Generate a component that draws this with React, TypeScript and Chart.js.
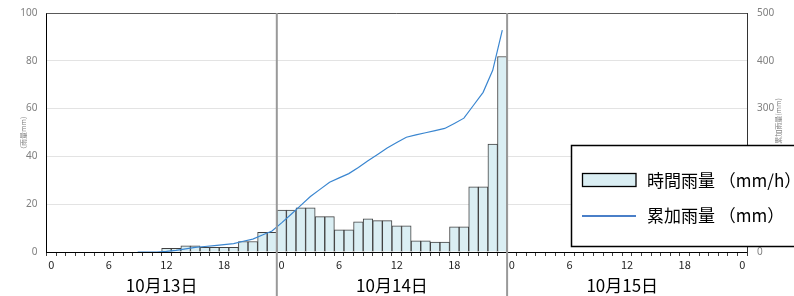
import React, { useEffect, useRef } from 'react';
import { Chart, registerables } from 'chart.js';

Chart.register(...registerables);

// ---- data ----
const dayLabels = ['10月13日', '10月14日', '10月15日'];
const hourLabels = [
  '0', '1', '2', '3', '4', '5', '6', '7', '8', '9', '10', '11', '12', '13', '14', '15', '16', '17', '18', '19', '20', '21', '22', '23',
  '0', '1', '2', '3', '4', '5', '6', '7', '8', '9', '10', '11', '12', '13', '14', '15', '16', '17', '18', '19', '20', '21', '22', '23',
  '0', '1', '2', '3', '4', '5', '6', '7', '8', '9', '10', '11', '12', '13', '14', '15', '16', '17', '18', '19', '20', '21', '22', '23',
  '0',
];
const shownHourTicks = ['0', '6', '12', '18'];

// 時間雨量 (mm/h)
const hourlyDay13 = [0, 0, 0, 0, 0, 0, 0, 0, 0, 0, 0, 0, 1.5, 1.5, 2.6, 2.6, 2, 2, 2, 2, 4.4, 4.4, 8.2, 8.2];
const hourlyDay14 = [17.5, 17.5, 18.5, 18.5, 14.8, 14.8, 9.3, 9.3, 12.6, 13.9, 13.1, 13.1, 11, 11, 4.7, 4.7, 4.2, 4.2, 10.5, 10.5, 27.3, 27.3, 45.2, 81.8];
const hourlyDay15 = [null, null, null, null, null, null, null, null, null, null, null, null, null, null, null, null, null, null, null, null, null, null, null, null, null];

// 累加雨量 (mm)
const cumulativeDay13 = [null, null, null, null, null, null, null, null, null, 0, 0, 0, 1.5, 3.5, 6.5, 9.5, 11.5, 13.5, 15.5, 17.5, 22.5, 27, 35.5, 44];
const cumulativeDay14 = [61, 79, 97.5, 116, 131, 146, 155, 164, 177, 191, 204, 217.5, 229, 240, 245, 249.5, 254, 258.5, 269, 280, 307, 334, 380, 464];
const cumulativeDay15 = [null, null, null, null, null, null, null, null, null, null, null, null, null, null, null, null, null, null, null, null, null, null, null, null, null];

const seriesNames = ['時間雨量 （mm/h）', '累加雨量 （mm）'];
const leftAxisTitle = '（雨量mm）';
const rightAxisTitle = '累加雨量(mm)';

const hourlyRain = [...hourlyDay13, ...hourlyDay14, ...hourlyDay15];
const cumulativeRain = [...cumulativeDay13, ...cumulativeDay14, ...cumulativeDay15];

const BAR_FILL = '#daeef3';
const BAR_BORDER = '#404040';
const LINE_COLOR = '#3a86d0';
const JP_FONT = '"Noto Sans CJK JP", "Noto Sans", sans-serif';

const overlayPlugin = {
  id: 'overlay',
  afterDatasetsDraw(chart: any) {
    const { ctx, chartArea, scales } = chart;
    const x = scales.x;
    ctx.save();
    // top border
    ctx.strokeStyle = '#595959';
    ctx.lineWidth = 1;
    ctx.beginPath();
    ctx.moveTo(chartArea.left, Math.round(chartArea.top) + 0.5);
    ctx.lineTo(chartArea.right, Math.round(chartArea.top) + 0.5);
    ctx.stroke();
    // day dividers
    ctx.strokeStyle = '#999999';
    ctx.lineWidth = 2;
    for (let d = 1; d < dayLabels.length; d++) {
      const px = x.getPixelForValue(24 * d - 0.5);
      ctx.beginPath();
      ctx.moveTo(px, chartArea.top);
      ctx.lineTo(px, chart.height);
      ctx.stroke();
    }
    ctx.restore();
  },
  afterDraw(chart: any) {
    const { ctx, chartArea, scales } = chart;
    const x = scales.x;
    ctx.save();
    // day labels
    ctx.fillStyle = '#000';
    ctx.font = `17px ${JP_FONT}`;
    ctx.textAlign = 'center';
    ctx.textBaseline = 'middle';
    dayLabels.forEach((lab, d) => {
      const px = x.getPixelForValue(24 * d + 11.5);
      ctx.fillText(lab, px, 286);
    });
    // axis titles
    ctx.fillStyle = '#7f7f7f';
    ctx.font = `7px ${JP_FONT}`;
    ctx.save();
    ctx.translate(23, (chartArea.top + chartArea.bottom) / 2);
    ctx.rotate(-Math.PI / 2);
    ctx.fillText(leftAxisTitle, 0, 0);
    ctx.restore();
    ctx.save();
    ctx.translate(778, 121);
    ctx.rotate(-Math.PI / 2);
    ctx.fillText(rightAxisTitle, 0, 0);
    ctx.restore();
    // legend box
    ctx.fillStyle = '#ffffff';
    ctx.fillRect(571, 145, 240, 102);
    ctx.strokeStyle = '#000';
    ctx.lineWidth = 1.5;
    ctx.strokeRect(571.5, 145.5, 240, 101);
    // bar swatch
    ctx.fillStyle = BAR_FILL;
    ctx.fillRect(582.5, 173.5, 53.5, 13);
    ctx.strokeStyle = '#000';
    ctx.lineWidth = 1.3;
    ctx.strokeRect(582.5, 173.5, 53.5, 13);
    // line swatch
    ctx.strokeStyle = '#4a7fc8';
    ctx.lineWidth = 2;
    ctx.beginPath();
    ctx.moveTo(582, 216);
    ctx.lineTo(636, 216);
    ctx.stroke();
    // legend text
    ctx.fillStyle = '#000';
    ctx.font = `17px ${JP_FONT}`;
    ctx.textAlign = 'left';
    ctx.textBaseline = 'middle';
    ctx.fillText(seriesNames[0], 647, 181);
    ctx.fillText(seriesNames[1], 647, 216);
    ctx.restore();
  },
};

export default function App() {
  const canvasRef = useRef<HTMLCanvasElement | null>(null);

  useEffect(() => {
    if (!canvasRef.current) return;
    const chart = new Chart(canvasRef.current, {
      type: 'bar',
      data: {
        labels: hourLabels,
        datasets: [
          {
            type: 'line',
            label: seriesNames[1],
            data: cumulativeRain as any,
            yAxisID: 'y2',
            borderColor: LINE_COLOR,
            borderWidth: 1.2,
            pointRadius: 0,
            tension: 0,
            fill: false,
            order: 0,
          } as any,
          {
            type: 'bar',
            label: seriesNames[0],
            data: hourlyRain as any,
            yAxisID: 'y',
            backgroundColor: BAR_FILL,
            borderColor: BAR_BORDER,
            borderWidth: 1,
            barPercentage: 1,
            categoryPercentage: 1,
            order: 1,
          } as any,
        ],
      },
      options: {
        responsive: false,
        animation: false,
        devicePixelRatio: 1,
        layout: { padding: { top: 13, bottom: 0, left: 0, right: 0 } },
        plugins: {
          legend: { display: false },
          tooltip: { enabled: false },
        },
        scales: {
          x: {
            type: 'category',
            offset: true,
            grid: {
              display: true,
              drawOnChartArea: false,
              drawTicks: true,
              tickLength: 4,
              offset: true,
              color: '#404040',
            },
            border: { display: true, color: '#000', width: 1 },
            ticks: {
              autoSkip: false,
              maxRotation: 0,
              minRotation: 0,
              padding: 2,
              color: '#262626',
              font: { family: JP_FONT, size: 11 },
              callback: function (this: any, value: any, index: number) {
                const lab = hourLabels[index];
                return shownHourTicks.includes(lab) && index % 6 === 0 ? lab : '';
              },
            },
            afterFit: (s: any) => {
              s.height = 44;
            },
          },
          y: {
            position: 'left',
            min: 0,
            max: 100,
            ticks: {
              stepSize: 20,
              padding: 9,
              color: '#7f7f7f',
              font: { family: '"Noto Sans", sans-serif', size: 10 },
            },
            grid: { color: '#e3e3e3', drawTicks: false },
            border: { display: true, color: '#000', width: 1 },
            afterFit: (s: any) => {
              s.width = 46.5;
              s.paddingTop = 0;
              s.paddingBottom = 0;
            },
          },
          y2: {
            position: 'right',
            min: 0,
            max: 500,
            ticks: {
              stepSize: 100,
              padding: 10,
              color: '#7f7f7f',
              font: { family: '"Noto Sans", sans-serif', size: 10 },
            },
            grid: { drawOnChartArea: false, drawTicks: false },
            border: { display: true, color: '#333', width: 1 },
            afterFit: (s: any) => {
              s.width = 47;
              s.paddingTop = 0;
              s.paddingBottom = 0;
            },
          },
        },
      } as any,
      plugins: [overlayPlugin],
    });
    return () => chart.destroy();
  }, []);

  return (
    <div style={{ position: 'absolute', left: 0, top: 0, width: 794, height: 296, background: '#fff' }}>
      <canvas ref={canvasRef} width={794} height={296} style={{ width: 794, height: 296, display: 'block' }} />
    </div>
  );
}
